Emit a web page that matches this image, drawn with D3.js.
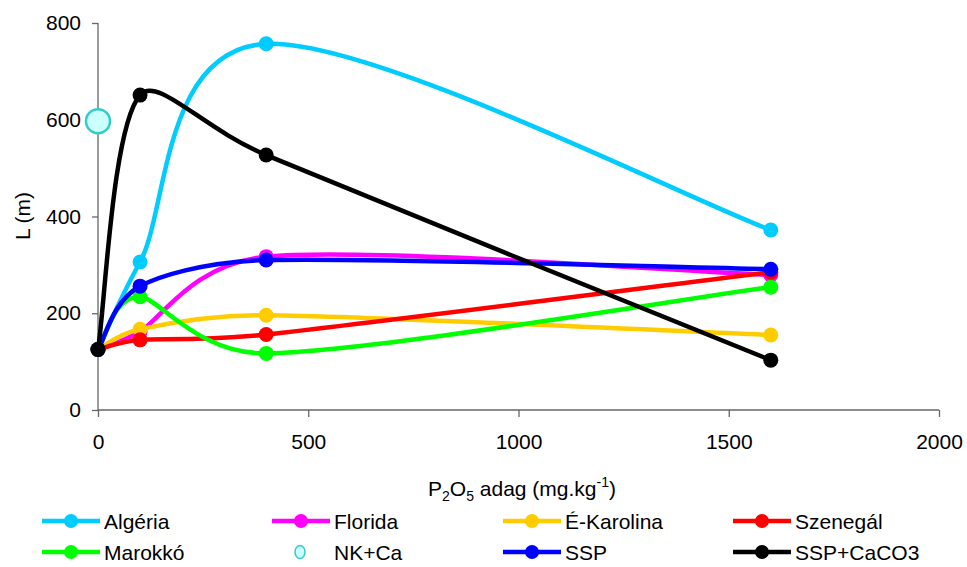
<!DOCTYPE html>
<html><head><meta charset="utf-8">
<script src="https://cdn.jsdelivr.net/npm/d3@7"></script>
<style>body{margin:0;background:#fff}svg{display:block;font-family:Arial,"Liberation Sans",sans-serif}</style>
</head><body><svg id="c" width="967" height="567"></svg>
<script>
const doses = [0, 100, 400, 1600];
const algeria   = [125, 306, 757, 372];
const florida   = [125, 162, 317, 279];
const eKarolina = [125, 167, 196, 155];
const szenegal  = [125, 145, 156, 285];
const marokko   = [125, 234, 117, 254];
const ssp       = [125, 256, 310, 291];
const sspCaCO3  = [125, 651, 527, 103];
const nkCaDose = [0], nkCaValue = [597];
const xTicks = [0, 500, 1000, 1500, 2000];
const yTicks = [0, 200, 400, 600, 800];

const series = [
  {name:"Algéria", values:algeria, color:"#00ccff"},
  {name:"Florida", values:florida, color:"#ff00ff"},
  {name:"É-Karolina", values:eKarolina, color:"#ffcc00"},
  {name:"Szenegál", values:szenegal, color:"#ff0000"},
  {name:"Marokkó", values:marokko, color:"#00ff00"},
  {name:"NK+Ca", nk:true},
  {name:"SSP", values:ssp, color:"#0000ff"},
  {name:"SSP+CaCO3", values:sspCaCO3, color:"#000000"}
];

// Spreadsheet-style smoothed line (Bezier with limited control arms)
function curveSmoothXL(context) {
  let pts = [];
  return {
    areaStart(){}, areaEnd(){},
    lineStart(){ pts = []; },
    point(x, y){ pts.push([+x, +y]); },
    lineEnd(){
      const n = pts.length;
      if (!n) return;
      context.moveTo(pts[0][0], pts[0][1]);
      const dist = (a,b)=>Math.hypot(b[0]-a[0], b[1]-a[1]);
      for (let i = 0; i < n-1; i++) {
        const p0 = pts[Math.max(0,i-1)], p1 = pts[i], p2 = pts[i+1], p3 = pts[Math.min(n-1,i+2)];
        const d02 = dist(p0,p2), d12 = dist(p1,p2), d13 = dist(p1,p3);
        let f = 1/6;
        if (d02 > 0) f = Math.min(f, d12/(2*d02));
        if (d13 > 0) f = Math.min(f, d12/(2*d13));
        const c1 = [p1[0] + f*(p2[0]-p0[0]), p1[1] + f*(p2[1]-p0[1])];
        const c2 = [p2[0] - f*(p3[0]-p1[0]), p2[1] - f*(p3[1]-p1[1])];
        context.bezierCurveTo(c1[0], c1[1], c2[0], c2[1], p2[0], p2[1]);
      }
    }
  };
}

const FS = 21;
const svg = d3.select("#c");
const x = d3.scaleLinear().domain([0,2000]).range([98,939]);
const y = d3.scaleLinear().domain([0,800]).range([410,23]);

// axes
const yAx = svg.append("g").attr("transform","translate(98,0)")
  .call(d3.axisLeft(y).tickValues(yTicks).tickFormat(d3.format("d")).tickSize(6).tickPadding(11));
const xAx = svg.append("g").attr("transform","translate(0,410)")
  .call(d3.axisBottom(x).tickValues(xTicks).tickFormat(d3.format("d")).tickSize(7).tickPadding(17));
[yAx,xAx].forEach(g=>{
  g.select(".domain").attr("stroke","#666").attr("stroke-width",1.3);
  g.selectAll(".tick line").attr("stroke","#666").attr("stroke-width",1.3);
  g.selectAll(".tick text").attr("font-size",FS).attr("fill","#000").attr("font-family","Arial, Liberation Sans, sans-serif");
});
xAx.select(".domain").attr("d","M98,0H939");
yAx.select(".domain").attr("d","M0,23V410");

// axis titles
svg.append("text").attr("transform","translate(30,216) rotate(-90)")
  .attr("text-anchor","middle").attr("font-size",FS).text("L (m)");
const xt = svg.append("text").attr("x",522).attr("y",496).attr("text-anchor","middle").attr("font-size",FS);
xt.append("tspan").text("P");
xt.append("tspan").attr("font-size",14).attr("dy",5).text("2");
xt.append("tspan").attr("dy",-5).text("O");
xt.append("tspan").attr("font-size",14).attr("dy",5).text("5");
xt.append("tspan").attr("dy",-5).text(" adag (mg.kg");
xt.append("tspan").attr("font-size",14).attr("dy",-9).text("-1");
xt.append("tspan").attr("dy",9).text(")");

const line = d3.line().x((d,i)=>x(doses[i])).y(d=>y(d)).curve(curveSmoothXL);

series.forEach(s=>{
  const g = svg.append("g");
  if (s.nk) {
    g.selectAll("circle").data(nkCaValue).join("circle")
      .attr("cx",(d,i)=>x(nkCaDose[i])).attr("cy",d=>y(d)).attr("r",12)
      .attr("fill","#ccffff").attr("stroke","#33cccc").attr("stroke-width",2.5);
    return;
  }
  g.append("path").attr("d",line(s.values)).attr("fill","none")
    .attr("stroke",s.color).attr("stroke-width",4.5).attr("stroke-linejoin","round");
  g.selectAll("circle").data(s.values).join("circle")
    .attr("cx",(d,i)=>x(doses[i])).attr("cy",d=>y(d)).attr("r",7.5).attr("fill",s.color);
});

// legend
const colX = [42, 272, 503, 733];
const rowY = [521, 552];
series.forEach((s,i)=>{
  const cx = colX[i%4], cy = rowY[Math.floor(i/4)];
  const g = svg.append("g").attr("transform",`translate(${cx},${cy})`);
  if (s.nk) {
    g.append("ellipse").attr("cx",28).attr("cy",0).attr("rx",5).attr("ry",6.5)
      .attr("fill","#ccffff").attr("stroke","#33cccc").attr("stroke-width",1.5);
  } else {
    g.append("line").attr("x1",0).attr("x2",58).attr("stroke",s.color).attr("stroke-width",4.5);
    g.append("circle").attr("cx",29).attr("r",7).attr("fill",s.color);
  }
  g.append("text").attr("x",62).attr("y",7.5).attr("font-size",FS).text(s.name);
});
</script></body></html>
